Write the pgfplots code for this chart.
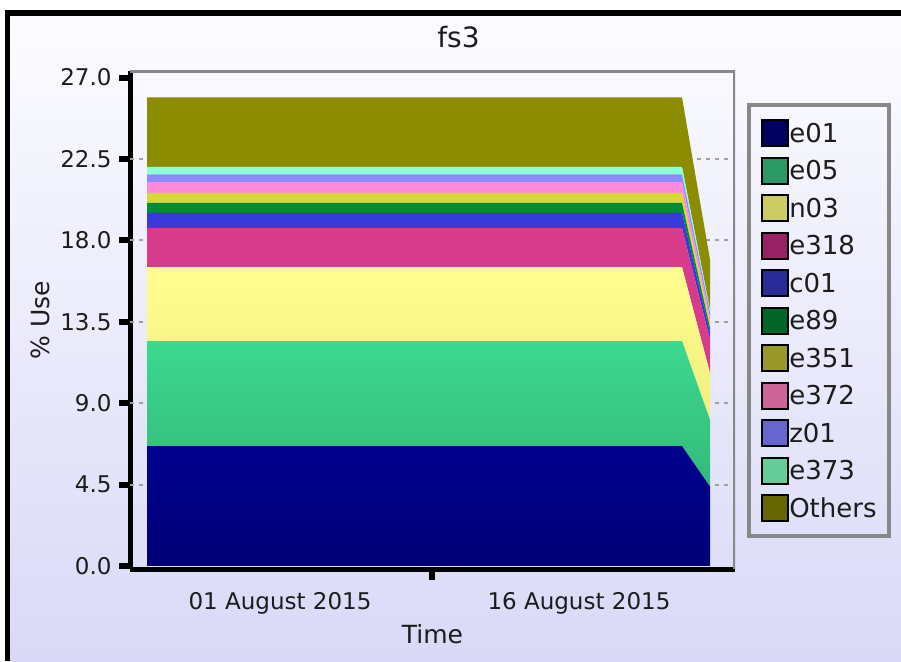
\documentclass[border=0pt]{standalone}
\usepackage{pgfplots}
\pgfplotsset{compat=1.18}
\usepackage{fontspec}
\setmainfont{DejaVu Sans}

% area fills
\definecolor{cE01t}{HTML}{00008E}
\definecolor{cE01b}{HTML}{000076}
\definecolor{cE05t}{HTML}{3DD98F}
\definecolor{cE05b}{HTML}{33BA7B}
\definecolor{cN03t}{HTML}{FEFE8E}
\definecolor{cN03b}{HTML}{F1EE80}
\definecolor{cE318}{HTML}{D83A8C}
\definecolor{cC01}{HTML}{3A3AD8}
\definecolor{cE89}{HTML}{008C3A}
\definecolor{cE351}{HTML}{D8D83A}
\definecolor{cE372}{HTML}{FF8CD8}
\definecolor{cZ01}{HTML}{8C8CFF}
\definecolor{cE373}{HTML}{8CFFD8}
\definecolor{cOth}{HTML}{8C8C00}
% legend swatches (darker)
\definecolor{lE01}{HTML}{00005E}
\definecolor{lE05}{HTML}{2A9966}
\definecolor{lN03}{HTML}{CCCC66}
\definecolor{lE318}{HTML}{992266}
\definecolor{lC01}{HTML}{2A2A99}
\definecolor{lE89}{HTML}{006629}
\definecolor{lE351}{HTML}{999929}
\definecolor{lE372}{HTML}{CC6699}
\definecolor{lZ01}{HTML}{6666CC}
\definecolor{lE373}{HTML}{66CC99}
\definecolor{lOth}{HTML}{666600}

\definecolor{bgtop}{HTML}{FCFCFF}
\definecolor{bgbot}{HTML}{D9D9F7}
\definecolor{frame}{HTML}{888888}
\definecolor{txt}{HTML}{1C1C1C}
\definecolor{gridc}{HTML}{A0A0A0}

\begin{document}
\begin{tikzpicture}
\fill[white] (0pt,0pt) rectangle (901pt,661pt);
\shade[top color=bgtop, bottom color=bgbot] (7pt,0pt) rectangle (901pt,648pt);
\fill[black] (5pt,0pt) rectangle (10pt,651pt);
\fill[black] (5pt,645pt) rectangle (901pt,651pt);

\begin{axis}[
  at={(130pt,92pt)}, anchor=south west,
  scale only axis, width=605pt, height=498pt,
  xmin=-7.53, xmax=22.83, ymin=-0.166, ymax=27.36,
  axis x line*=bottom, axis y line*=left,
  axis line style={black, line width=5pt, -},
  stack plots=y,
  ytick={0,4.5,9,13.5,18,22.5,27},
  yticklabels={0.0,4.5,9.0,13.5,18.0,22.5,27.0},
  xtick={0,15},
  xticklabels={01 August 2015,16 August 2015},
  tick align=outside,
  major tick length=11pt,
  ytick style={black, line width=6pt},
  xtick style={draw=none},
  extra x ticks={7.63},
  extra x tick labels={},
  extra x tick style={xtick style={draw=black, line width=6pt}},
  extra y ticks={4.5,9,13.5,18,22.5},
  extra y tick labels={},
  extra y tick style={grid=major},
  grid style={gridc, line width=2pt, dash pattern=on 4pt off 5pt},
  tick label style={font=\fontsize{23pt}{27pt}\selectfont, text=txt},
  yticklabel style={xshift=-4pt},
  xticklabel style={anchor=center, yshift=-23pt},
  title={fs3},
  title style={at={(rel axis cs:0.5,1)}, anchor=base, xshift=26pt, yshift=17.7pt,
    font=\fontsize{28pt}{32pt}\selectfont, text=txt},
  xlabel={Time},
  xlabel style={at={(rel axis cs:0.5,0)}, anchor=center, yshift=-64.7pt,
    font=\fontsize{25pt}{29pt}\selectfont, text=txt},
  ylabel={\% Use},
  ylabel style={at={(rel axis cs:0,0.5)}, anchor=center, yshift=90pt,
    font=\fontsize{25pt}{29pt}\selectfont, text=txt},
  legend style={at={(rel axis cs:1,1)}, anchor=north west, xshift=12pt, yshift=-32.5pt,
    draw=frame, line width=3.5pt, fill=none, inner xsep=12.5pt, inner ysep=14pt,
    font=\fontsize{26pt}{30pt}\selectfont, row sep=9.5pt,
    nodes={text height=22pt, text depth=4pt, inner sep=0pt, text=txt},
    /tikz/every even column/.append style={column sep=5pt}},
  legend cell align=left,
  legend image code/.code={\draw[#1, line width=2pt, draw=black] (0pt,-13pt) rectangle (26pt,13pt);},
]
\addplot[forget plot, top color=cE01t, bottom color=cE01b, draw=none]
  coordinates {(-6.67,6.63) (20.17,6.63) (21.58,4.38)} \closedcycle;
\addplot[forget plot, top color=cE05t, bottom color=cE05b, draw=none]
  coordinates {(-6.67,5.80) (20.17,5.80) (21.58,3.69)} \closedcycle;
\addplot[forget plot, top color=cN03t, bottom color=cN03b, draw=none]
  coordinates {(-6.67,4.09) (20.17,4.09) (21.58,2.58)} \closedcycle;
\addplot[forget plot, fill=cE318, draw=none]
  coordinates {(-6.67,2.15) (20.17,2.15) (21.58,1.84)} \closedcycle;
\addplot[forget plot, fill=cC01, draw=none]
  coordinates {(-6.67,0.85) (20.17,0.85) (21.58,0.38)} \closedcycle;
\addplot[forget plot, fill=cE89, draw=none]
  coordinates {(-6.67,0.55) (20.17,0.55) (21.58,0.28)} \closedcycle;
\addplot[forget plot, fill=cE351, draw=none]
  coordinates {(-6.67,0.55) (20.17,0.55) (21.58,0.28)} \closedcycle;
\addplot[forget plot, fill=cE372, draw=none]
  coordinates {(-6.67,0.60) (20.17,0.60) (21.58,0.27)} \closedcycle;
\addplot[forget plot, fill=cZ01, draw=none]
  coordinates {(-6.67,0.42) (20.17,0.42) (21.58,0.28)} \closedcycle;
\addplot[forget plot, fill=cE373, draw=none]
  coordinates {(-6.67,0.42) (20.17,0.42) (21.58,0.16)} \closedcycle;
\addplot[forget plot, fill=cOth, draw=none]
  coordinates {(-6.67,3.84) (20.17,3.84) (21.58,2.77)} \closedcycle;

\addlegendimage{fill=lE01}\addlegendentry{e01}
\addlegendimage{fill=lE05}\addlegendentry{e05}
\addlegendimage{fill=lN03}\addlegendentry{n03}
\addlegendimage{fill=lE318}\addlegendentry{e318}
\addlegendimage{fill=lC01}\addlegendentry{c01}
\addlegendimage{fill=lE89}\addlegendentry{e89}
\addlegendimage{fill=lE351}\addlegendentry{e351}
\addlegendimage{fill=lE372}\addlegendentry{e372}
\addlegendimage{fill=lZ01}\addlegendentry{z01}
\addlegendimage{fill=lE373}\addlegendentry{e373}
\addlegendimage{fill=lOth}\addlegendentry{Others}
% grey top and right frame
\draw[frame, line width=4pt] (rel axis cs:0,1) -- (rel axis cs:1,1) -- (rel axis cs:1,0);
\end{axis}
\pgfresetboundingbox
\path (0pt,0pt) rectangle (901pt,661pt);
\end{tikzpicture}
\end{document}
